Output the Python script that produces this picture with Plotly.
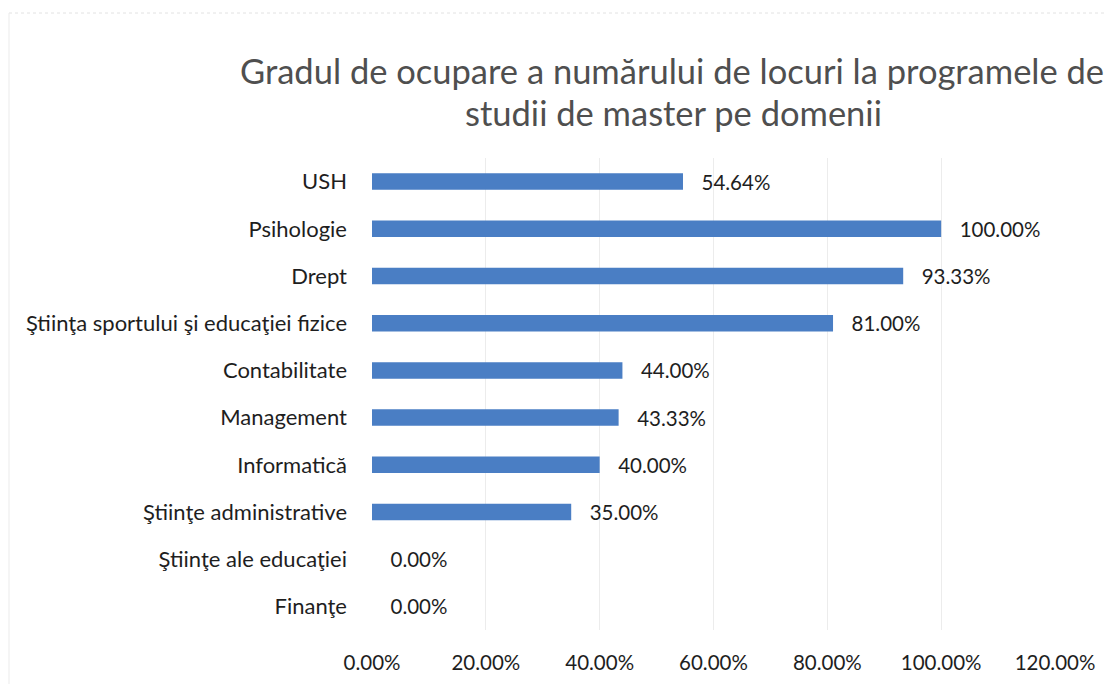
import plotly.graph_objects as go

categories = ["USH", "Psihologie", "Drept", "Ştiinţa sportului şi educaţiei fizice",
              "Contabilitate", "Management", "Informatică", "Ştiinţe administrative",
              "Ştiinţe ale educaţiei", "Finanţe"]
values = [54.64, 100.00, 93.33, 81.00, 44.00, 43.33, 40.00, 35.00, 0.00, 0.00]
tick_vals = [0, 20, 40, 60, 80, 100, 120]
tick_text = ["0.00%", "20.00%", "40.00%", "60.00%", "80.00%", "100.00%", "120.00%"]
title_lines = ["Gradul de ocupare a numărului de locuri la programele de",
               "studii de master pe domenii"]

labels = ["\u2002\u00a0" + f"{v:.2f}%" for v in values]
FONT = "Lato, Open Sans, sans-serif"

# page body has an 8px margin, so figure coords = screen coords - 8
L, R, T, B = 364, 65, 150, 62
W, H = 1112, 684
PW, PH = W - L - R, H - T - B


def px_x(sx):
    return (sx - 8 - L) / PW


def px_y(sy):
    return (H - B - (sy - 8)) / PH


fig = go.Figure(go.Bar(
    x=values, y=categories, orientation="h",
    marker=dict(color="#4a7ec4", line=dict(width=0)),
    width=0.35,
    text=labels, textposition="outside", cliponaxis=False, constraintext="none",
    textfont=dict(family=FONT, size=20.5, color="#1e1e1e"),
))

annotations = [
    dict(text=title_lines[0], xref="paper", yref="paper", x=px_x(672), y=px_y(70),
         xanchor="center", yanchor="middle", showarrow=False,
         font=dict(family=FONT, size=34.5, color="#4f4f4f")),
    dict(text=title_lines[1], xref="paper", yref="paper", x=px_x(673), y=px_y(112),
         xanchor="center", yanchor="middle", showarrow=False,
         font=dict(family=FONT, size=34.5, color="#4f4f4f")),
]

fig.update_layout(
    width=W, height=H,
    margin=dict(l=L, r=R, t=T, b=B, autoexpand=False),
    paper_bgcolor="white", plot_bgcolor="white",
    showlegend=False,
    annotations=annotations,
    xaxis=dict(range=[0, 120], tickvals=tick_vals, ticktext=tick_text, automargin=False,
               showgrid=True, gridcolor="#ececec", gridwidth=1, zeroline=False,
               showline=False, ticks="", ticklabelstandoff=18,
               tickfont=dict(family=FONT, size=20.5, color="#1e1e1e")),
    yaxis=dict(autorange="reversed", showgrid=False, zeroline=False, ticks="",
               ticklabelstandoff=24, automargin=False,
               tickfont=dict(family=FONT, size=22, color="#1e1e1e")),
    shapes=[
        dict(type="line", xref="paper", yref="paper",
             x0=px_x(9), x1=px_x(1112), y0=px_y(13), y1=px_y(13),
             line=dict(color="#e2e2e2", width=1, dash="dot")),
        dict(type="line", xref="paper", yref="paper",
             x0=px_x(9), x1=px_x(9), y0=px_y(700), y1=px_y(13),
             line=dict(color="#ebebeb", width=1)),
    ],
)

fig.write_html("out.html")
